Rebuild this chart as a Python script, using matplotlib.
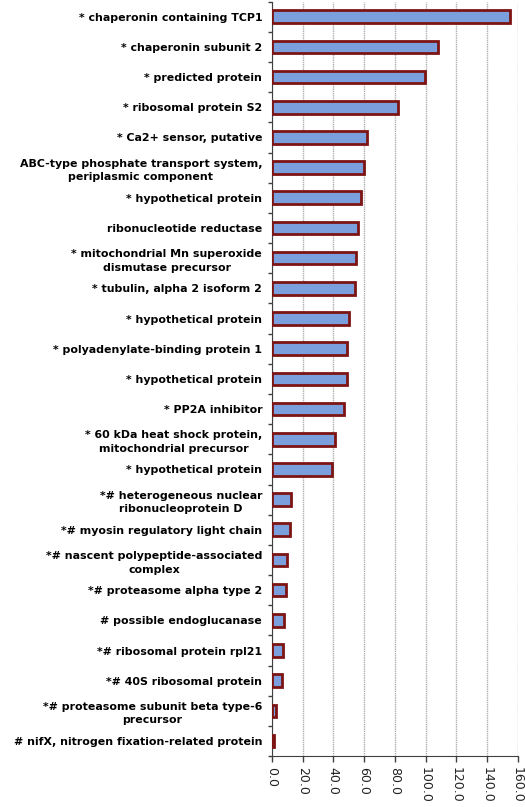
import matplotlib.pyplot as plt
import numpy as np

labels = [
    '* chaperonin containing TCP1',
    '* chaperonin subunit 2',
    '* predicted protein',
    '* ribosomal protein S2',
    '* Ca2+ sensor, putative',
    'ABC-type phosphate transport system,\nperiplasmic component',
    '* hypothetical protein',
    'ribonucleotide reductase',
    '* mitochondrial Mn superoxide\ndismutase precursor',
    '* tubulin, alpha 2 isoform 2',
    '* hypothetical protein',
    '* polyadenylate-binding protein 1',
    '* hypothetical protein',
    '* PP2A inhibitor',
    '* 60 kDa heat shock protein,\nmitochondrial precursor',
    '* hypothetical protein',
    '*# heterogeneous nuclear\nribonucleoprotein D',
    '*# myosin regulatory light chain',
    '*# nascent polypeptide-associated\ncomplex',
    '*# proteasome alpha type 2',
    '# possible endoglucanase',
    '*# ribosomal protein rpl21',
    '*# 40S ribosomal protein',
    '*# proteasome subunit beta type-6\nprecursor',
    '# nifX, nitrogen fixation-related protein',
]
values = [154.8, 108.3, 99.5, 82.3, 61.7, 59.7, 57.8, 56.0, 54.5, 54.3,
          50.4, 48.7, 48.7, 46.7, 41.0, 39.1, 12.3, 11.5, 9.9, 8.9,
          8.0, 7.0, 6.8, 2.9, 1.6]
xticks = [0, 20, 40, 60, 80, 100, 120, 140, 160]

fig = plt.figure(figsize=(5.25, 8.07), dpi=100)
ax = fig.add_axes([0.518, 0.063, 0.468, 0.935])

y = np.arange(len(labels))
ax.barh(y, values, height=0.42, color='#7a9fdc', edgecolor='#7d1414', linewidth=2.0, zorder=3)
ax.set_ylim(len(labels) - 0.5, -0.5)
ax.set_xlim(0, 160)

ax.set_yticks(y)
ax.set_yticklabels(labels, fontsize=7.9, fontweight='bold', multialignment='center', linespacing=1.45)
ax.tick_params(axis='y', which='major', length=0, pad=7)
ax.set_yticks(np.arange(-0.5, len(labels), 1.0), minor=True)
ax.tick_params(axis='y', which='minor', length=3, width=1, color='#404040', direction='out')

ax.set_xticks(xticks)
ax.set_xticklabels([f'{v:.1f}' for v in xticks], rotation=-90, fontsize=9, color='#222222')
ax.tick_params(axis='x', length=4, width=1, color='#404040')
ax.grid(axis='x', color='#b0b0b0', linestyle=(0, (1, 0.6)), linewidth=1.0, zorder=0)

for s in ['top', 'right']:
    ax.spines[s].set_visible(False)
ax.spines['left'].set_color('#404040')
ax.spines['bottom'].set_color('#404040')

fig.savefig('out.png', dpi=100)
